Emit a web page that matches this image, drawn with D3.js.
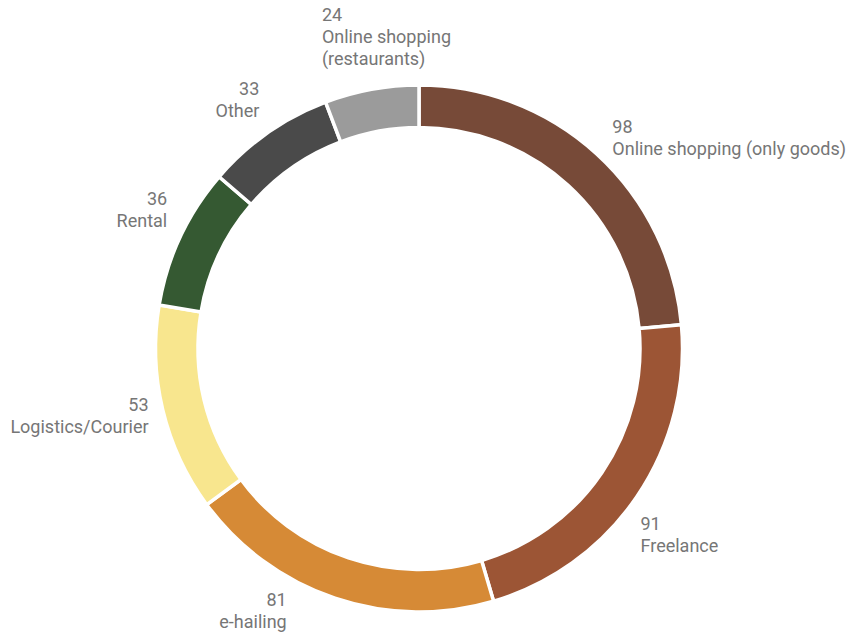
<!DOCTYPE html>
<html><head><meta charset="utf-8">
<script src="https://cdn.jsdelivr.net/npm/d3@7"></script>
<style>body{margin:0;background:#fff;}text{font-family:Roboto,"Liberation Sans",sans-serif;}</style>
</head><body><svg id="c" width="847" height="633"></svg>
<script>
const categories = ["Online shopping (only goods)","Freelance","e-hailing","Logistics/Courier","Rental","Other","Online shopping (restaurants)"];
const labelLines = [["Online shopping (only goods)"],["Freelance"],["e-hailing"],["Logistics/Courier"],["Rental"],["Other"],["Online shopping","(restaurants)"]];
const values = [98,91,81,53,36,33,24];
const colors = ["#774a38","#9c5535","#d68a36","#f8e68e","#355932","#4a4a4a","#9b9b9b"];

const W=847,H=633,cx=419,cy=348.5,R=263.5,r=221,D=278;
const svg=d3.select("#c");
const g=svg.append("g");
const pie=d3.pie().sort(null).value(d=>d.v);
const data=categories.map((c,i)=>({c,v:values[i],lines:labelLines[i],col:colors[i]}));
const arcs=pie(data);
const arc=d3.arc().innerRadius(r).outerRadius(R);
g.append("g").attr("transform",`translate(${cx},${cy})`)
 .selectAll("path").data(arcs).join("path").attr("d",arc).attr("fill",d=>d.data.col)
 .attr("stroke","#fff").attr("stroke-width",3.5);

const fs=18,lh=22;
arcs.forEach(a=>{
  let m=(a.startAngle+a.endAngle)/2;
  if(Math.sin(m)>0.25) m+=3*Math.PI/180;
  const s=Math.sin(m), c=Math.cos(m);
  let px=cx+D*s, py=cy-D*c;
  const lines=[String(a.data.v)].concat(a.data.lines);
  const h=17+lh*(lines.length-1);
  let anchor, x, top;
  if(Math.abs(s)<0.25){
    anchor="start"; x=px-47; top=py-6-h;
  } else {
    anchor = s>0 ? "start" : "end";
    x=px;
    const frac = Math.abs(c)<0.3 ? (1+c)/2 : (c>0?1:0);
    top=py-h*frac;
    if(top+h>H-1){
      top=H-1-h;
      const dy=top-cy;
      x=cx+Math.sign(s)*Math.sqrt(D*D-dy*dy);
    }
    if(s>0 && c>0.3) top+=6;
  }
  const t=g.append("text").attr("text-anchor",anchor).attr("font-size",fs).attr("fill","#767676");
  const spans=lines.map((L,i)=>t.append("tspan").attr("x",x).attr("y",top+13+i*lh).text(L));
  const w=d3.max(spans,sp=>sp.node().getComputedTextLength());
  if(anchor==="start" && x+w>W-1){ const nx=W-1-w; spans.forEach(sp=>sp.attr("x",nx)); }
});
</script></body></html>
